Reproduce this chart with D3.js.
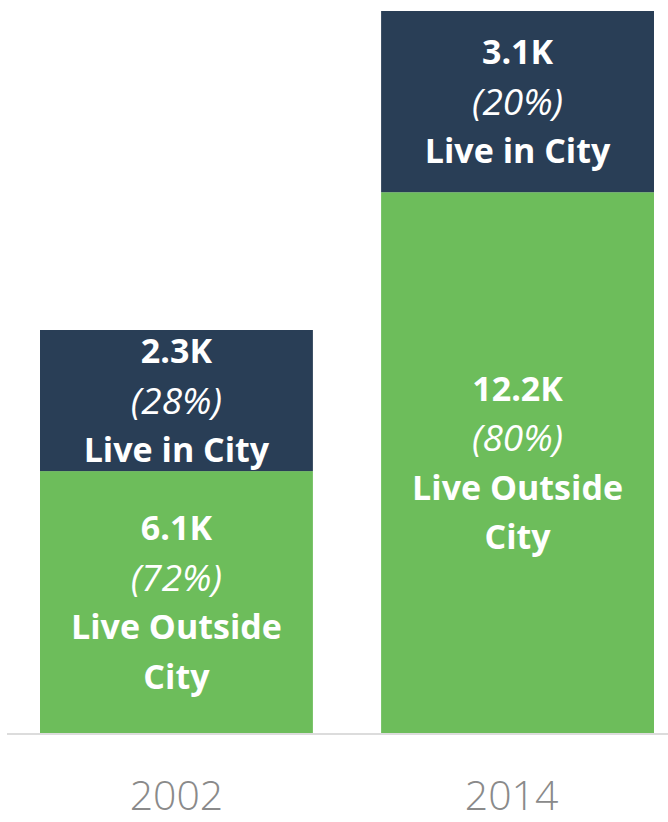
<!DOCTYPE html>
<html>
<head>
<meta charset="utf-8">
<script src="https://cdn.jsdelivr.net/npm/d3@7"></script>
<style>
  body { margin: 0; background: #fff; }
  svg { display: block; }
</style>
</head>
<body>
<svg id="chart" width="668" height="822"></svg>
<script>
// years on the x axis
const years = ["2002", "2014"];

// values printed on the bars (thousands, share of total)
const outsideK = [6.1, 12.2];
const outsidePct = [72, 80];
const cityK = [2.3, 3.1];
const cityPct = [28, 20];

// segment lengths as drawn in the source (it is not drawn to scale)
const outsideBar = [5.55, 11.46];
const cityBar = [2.99, 3.84];

const width = 668, height = 822;
const svg = d3.select("#chart");
const baseY = 733, topY = 11;

const x = d3.scaleBand()
    .domain(years)
    .range([40, 654])
    .paddingInner(0.2)
    .paddingOuter(0);

const y = d3.scaleLinear()
    .domain([0, d3.max(years, (d, i) => outsideBar[i] + cityBar[i])])
    .range([baseY, topY]);

function kLabel(v) {
    return v.toFixed(1) + "K";
}

const rows = years.map(function (yr, i) {
    return {
        year: yr,
        segs: [
            {lo: 0, hi: outsideBar[i], fill: "#6dbd5b",
             lines: [kLabel(outsideK[i]), "(" + outsidePct[i] + "%)", "Live Outside", "City"]},
            {lo: outsideBar[i], hi: outsideBar[i] + cityBar[i], fill: "#293e56",
             lines: [kLabel(cityK[i]), "(" + cityPct[i] + "%)", "Live in City"]}
        ]
    };
});

const lineGap = 49.5;

const g = svg.append("g");

rows.forEach(function (r) {
    r.segs.forEach(function (s) {
        g.append("rect")
            .attr("x", x(r.year))
            .attr("y", y(s.hi))
            .attr("width", x.bandwidth())
            .attr("height", y(s.lo) - y(s.hi))
            .attr("fill", s.fill);

        const cx = x(r.year) + x.bandwidth() / 2;
        const cy = (y(s.lo) + y(s.hi)) / 2;
        const n = s.lines.length;
        s.lines.forEach(function (t, k) {
            const pct = k === 1;
            g.append("text")
                .attr("x", cx)
                .attr("y", cy + (k - (n - 1) / 2) * lineGap)
                .attr("dy", "0.36em")
                .attr("text-anchor", "middle")
                .attr("fill", "#fff")
                .style("font-family", "'Open Sans', sans-serif")
                .style("font-size", pct ? "37px" : "34px")
                .style("font-weight", pct ? 400 : 700)
                .style("font-style", pct ? "italic" : "normal")
                .text(t);
        });
    });
});

// baseline
svg.append("line")
    .attr("x1", 7).attr("x2", width)
    .attr("y1", baseY + 1).attr("y2", baseY + 1)
    .attr("stroke", "#dcdcdc")
    .attr("stroke-width", 2);

const xAxis = svg.append("g")
    .attr("transform", "translate(0," + baseY + ")")
    .call(d3.axisBottom(x).tickSize(0).tickPadding(0));
xAxis.select(".domain").remove();
xAxis.selectAll("text")
    .attr("y", 0)
    .attr("dy", 0)
    .attr("transform", (d, i) => "translate(" + (i === 1 ? -6 : 0) + ",77)")
    .attr("fill", "#8a8a8a")
    .style("font-family", "'Open Sans', sans-serif")
    .style("font-weight", 300)
    .style("font-size", "41px");
</script>
</body>
</html>
